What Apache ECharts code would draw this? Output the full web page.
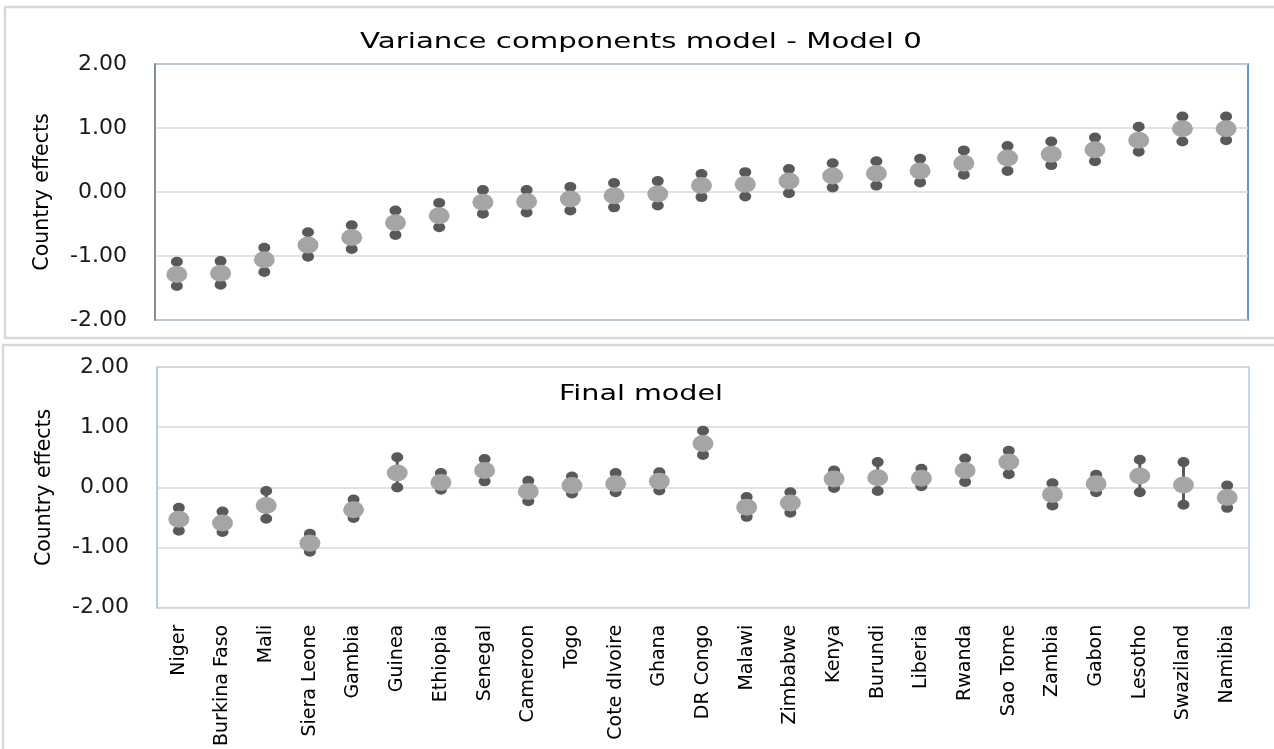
<!DOCTYPE html>
<html>
<head>
<meta charset="utf-8">
<script src="https://cdn.jsdelivr.net/npm/echarts@6/dist/echarts.min.js"></script>
<style>
html,body{margin:0;padding:0;background:#fff;}
#chart{width:1274px;height:749px;}
</style>
</head>
<body>
<div id="chart"></div>
<script>
var countries = ["Niger","Burkina Faso","Mali","Siera Leone","Gambia","Guinea","Ethiopia","Senegal","Cameroon","Togo","Cote dIvoire","Ghana","DR Congo","Malawi","Zimbabwe","Kenya","Burundi","Liberia","Rwanda","Sao Tome","Zambia","Gabon","Lesotho","Swaziland","Namibia"];
var yTicks = [-2, -1, 0, 1, 2];

var model0Mean = [-1.29,-1.27,-1.06,-0.83,-0.71,-0.48,-0.37,-0.16,-0.15,-0.11,-0.06,-0.03,0.10,0.12,0.17,0.25,0.29,0.33,0.45,0.53,0.59,0.66,0.81,0.99,0.99];
var model0Low  = [-1.47,-1.45,-1.25,-1.01,-0.89,-0.67,-0.55,-0.34,-0.32,-0.29,-0.24,-0.21,-0.08,-0.07,-0.02,0.07,0.10,0.15,0.27,0.33,0.42,0.48,0.63,0.79,0.81];
var model0High = [-1.09,-1.08,-0.87,-0.63,-0.52,-0.29,-0.17,0.03,0.03,0.08,0.14,0.17,0.28,0.31,0.36,0.45,0.48,0.52,0.65,0.72,0.79,0.85,1.02,1.18,1.18];

var finalMean = [-0.53,-0.59,-0.30,-0.93,-0.37,0.24,0.08,0.28,-0.07,0.03,0.06,0.10,0.73,-0.33,-0.26,0.14,0.16,0.15,0.28,0.42,-0.12,0.06,0.19,0.04,-0.17];
var finalLow  = [-0.72,-0.74,-0.52,-1.07,-0.51,0.00,-0.04,0.10,-0.23,-0.10,-0.08,-0.05,0.54,-0.49,-0.42,-0.01,-0.06,0.02,0.09,0.22,-0.30,-0.08,-0.08,-0.29,-0.34];
var finalHigh = [-0.34,-0.40,-0.06,-0.77,-0.20,0.50,0.24,0.47,0.11,0.18,0.24,0.25,0.94,-0.16,-0.08,0.28,0.42,0.31,0.48,0.61,0.07,0.21,0.46,0.42,0.03];

var FONT = '"DejaVu Sans", Verdana, sans-serif';
var chart = echarts.init(document.getElementById('chart'), null, {renderer: 'canvas'});

function yAxisCfg(gridIndex, lineColor) {
  return {
    type: 'value', gridIndex: gridIndex, min: yTicks[0], max: yTicks[yTicks.length - 1], interval: 1,
    name: 'Country effects', nameLocation: 'middle', nameGap: 102, nameRotate: 90,
    nameTextStyle: {fontFamily: FONT, fontSize: 20.5, color: '#000'},
    axisLine: {show: true, lineStyle: {color: lineColor, width: 1.5}},
    axisTick: {show: false},
    axisLabel: {fontFamily: FONT, fontSize: 22, color: '#1a1a1a', margin: 28,
      formatter: function (v) { return v.toFixed(2); }},
    splitLine: {show: true, lineStyle: {color: '#D9D9D9', width: 1.5}}
  };
}

function rangeLine(params, api) {
  var x = api.value(0);
  var lo = api.coord([x, api.value(1)]);
  var hi = api.coord([x, api.value(2)]);
  return {type: 'line', shape: {x1: lo[0], y1: lo[1], x2: hi[0], y2: hi[1]},
    style: {stroke: '#595959', lineWidth: 3}};
}

function seriesFor(idx, mean, low, high) {
  var rng = countries.map(function (c, i) { return [i, low[i], high[i]]; });
  return [
    {type: 'custom', xAxisIndex: idx, yAxisIndex: idx, renderItem: rangeLine,
      encode: {x: 0, y: [1, 2]}, data: rng, z: 2, silent: true},
    {type: 'scatter', xAxisIndex: idx, yAxisIndex: idx, data: low, symbol: 'circle',
      symbolSize: [12, 10], itemStyle: {color: '#595959', opacity: 1}, z: 3},
    {type: 'scatter', xAxisIndex: idx, yAxisIndex: idx, data: high, symbol: 'circle',
      symbolSize: [12, 10], itemStyle: {color: '#595959', opacity: 1}, z: 3},
    {type: 'scatter', xAxisIndex: idx, yAxisIndex: idx, data: mean, symbol: 'circle',
      symbolSize: [21, 17], itemStyle: {color: '#A5A5A5', opacity: 1}, z: 4}
  ];
}

var option = {
  backgroundColor: '#ffffff',
  animation: false,
  graphic: [
    {type: 'rect', shape: {x: 5, y: 7, width: 1300, height: 331},
      style: {fill: 'none', stroke: '#D9D9D9', lineWidth: 2.5}, z: -10},
    {type: 'rect', shape: {x: 3, y: 345, width: 1300, height: 420},
      style: {fill: 'none', stroke: '#D9D9D9', lineWidth: 2.5}, z: -10},
    {type: 'text', x: 641, y: 42, scaleX: 1.33,
      style: {text: 'Variance components model - Model 0', font: '22px ' + FONT,
        fill: '#000', textAlign: 'center', textVerticalAlign: 'middle'}, z: 10},
    {type: 'text', x: 641, y: 394, scaleX: 1.3,
      style: {text: 'Final model', font: '22px ' + FONT,
        fill: '#000', textAlign: 'center', textVerticalAlign: 'middle'}, z: 10}
  ],
  grid: [
    {left: 155, top: 64, width: 1093, height: 256, show: true,
      borderColor: '#2E75B6', borderWidth: 1.5, backgroundColor: '#fff'},
    {left: 157, top: 367, width: 1092, height: 243, show: true,
      borderColor: '#B4C7E7', borderWidth: 1.5, backgroundColor: '#fff'}
  ],
  xAxis: [
    {type: 'category', gridIndex: 0, data: countries, boundaryGap: true,
      axisLine: {show: false}, axisTick: {show: false}, axisLabel: {show: false},
      splitLine: {show: false}},
    {type: 'category', gridIndex: 1, data: countries, boundaryGap: true,
      axisLine: {show: false}, axisTick: {show: false},
      axisLabel: {show: true, rotate: 90, interval: 0, margin: 17,
        fontFamily: FONT, fontSize: 19, color: '#000'},
      splitLine: {show: false}}
  ],
  yAxis: [yAxisCfg(0, '#8C8C8C'), yAxisCfg(1, '#B4C7E7')],
  series: [].concat(
    seriesFor(0, model0Mean, model0Low, model0High),
    seriesFor(1, finalMean, finalLow, finalHigh)
  )
};
chart.setOption(option);
</script>
</body>
</html>
